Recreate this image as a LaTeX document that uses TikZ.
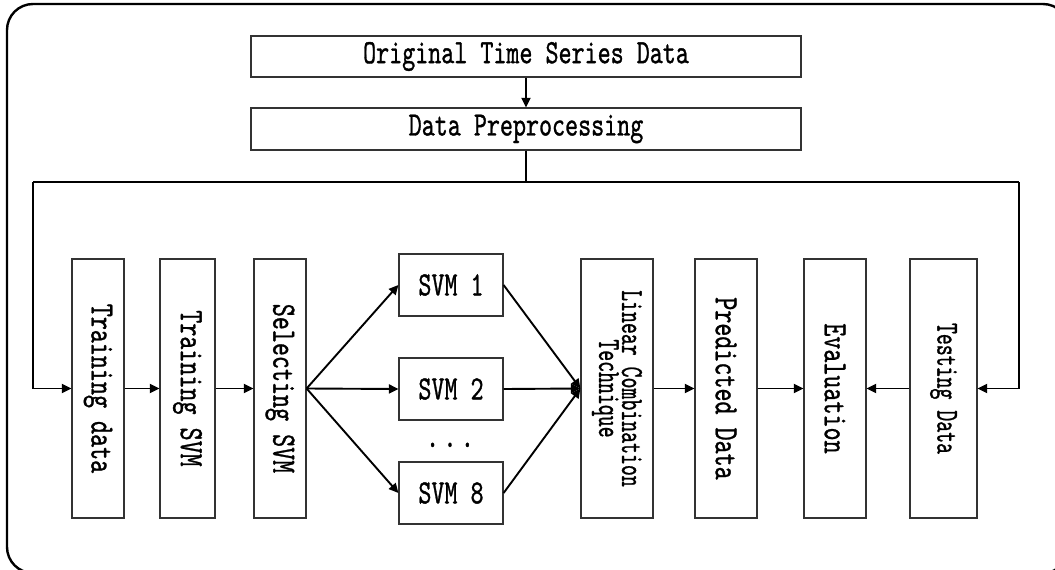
\documentclass[tikz,border=0pt]{standalone}
\usepackage{graphicx}
\usepackage{fontspec}
\newfontfamily\dfont{lmmono10-regular.otf}[FakeBold=1.1]
\usetikzlibrary{arrows.meta}
\newcommand\cond[1]{\scalebox{0.73}[1]{#1}}
\newcommand\condb[1]{\scalebox{0.65}[1]{#1}}
\begin{document}
\begin{tikzpicture}[x=1pt,y=-1pt,
  txt/.style={font=\fontsize{34}{36}\selectfont\dfont},
  smalltxt/.style={font=\fontsize{32}{23}\selectfont\dfont},
  hbox/.style={draw=black!80, line width=1.2pt, inner sep=0pt, txt, align=center},
  vbox/.style={draw=black!80, line width=1.2pt, inner sep=0pt, minimum height=259pt},
  vtxt/.style={txt, rotate=-90, align=center, inner sep=0pt},
  conn/.style={line width=1.9pt},
  arr/.style={conn, -{Triangle[length=9.5pt,width=9pt]}}
]
\useasboundingbox (0,0) rectangle (1055,570);
\begin{scope}
\clip (0,0) rectangle (1055,570);
\draw[line width=2.4pt, rounded corners=26pt] (7,4) rectangle (1069,573);
\end{scope}

% top boxes
\node[hbox, minimum width=550pt, minimum height=41pt] (orig) at (526,56.5) {\cond{Original Time Series Data}};
\node[hbox, minimum width=550pt, minimum height=42pt] (dp) at (526,129) {\cond{Data Preprocessing}};

% tall boxes
\node[vbox, minimum width=52pt] (td) at (98,388.5) {};
\node[vtxt] at (td.center) {\cond{Training data}};
\node[vbox, minimum width=55pt] (tsvm) at (187.5,388.5) {};
\node[vtxt] at (tsvm.center) {\cond{Training SVM}};
\node[vbox, minimum width=52pt] (ssvm) at (280,388.5) {};
\node[vtxt] at (ssvm.center) {\cond{Selecting SVM}};

\node[hbox, minimum width=104pt, minimum height=62pt] (s1) at (451,285) {\cond{SVM 1}};
\node[hbox, minimum width=104pt, minimum height=62pt] (s2) at (451,389) {\cond{SVM 2}};
\node[hbox, minimum width=104pt, minimum height=62pt] (s8) at (451,493) {\cond{SVM 8}};
\node[txt, anchor=base, inner sep=0pt] (dots) at (450,447) {\cond{.\hspace{6pt}.\hspace{6pt}.}};

\node[vbox, minimum width=72pt] (lin) at (617,388.5) {};
\node[vtxt, smalltxt] at (lin.center) {\condb{Linear Combination}\\\condb{Technique}};
\node[vbox, minimum width=62pt] (pred) at (726,388.5) {};
\node[vtxt] at (pred.center) {\cond{Predicted Data}};
\node[vbox, minimum width=62pt] (eval) at (835,388.5) {};
\node[vtxt] at (eval.center) {\cond{Evaluation}};
\node[vbox, minimum width=67pt] (test) at (943.5,388.5) {};
\node[vtxt, smalltxt] at (test.center) {\condb{Testing Data}};

\coordinate (jl) at (33,182);
\coordinate (jr) at (1019,182);

\draw[arr] (orig) -- (dp);
\draw[conn] (dp.south) |- (jl);
\draw[conn] (dp.south) |- (jr);
\draw[arr] (jl) |- (td.west);
\draw[arr] (jr) |- (test.east);
\draw[arr] (td) -- (tsvm);
\draw[arr] (tsvm) -- (ssvm);
\draw[arr] (ssvm.east) -- (s1.west);
\draw[arr] (ssvm.east) -- (s2.west);
\draw[arr] (ssvm.east) -- (s8.west);
\draw[arr] (s1.east) -- (lin.west);
\draw[arr] (s2.east) -- (lin.west);
\draw[arr] (s8.east) -- (lin.west);
\draw[arr] (lin) -- (pred);
\draw[arr] (pred) -- (eval);
\draw[arr] (test) -- (eval);
\end{tikzpicture}
\end{document}
